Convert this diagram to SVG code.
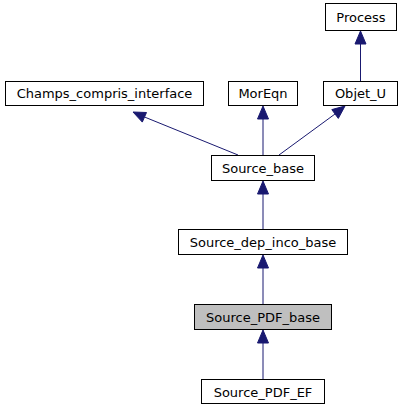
<svg xmlns="http://www.w3.org/2000/svg" width="403" height="411" viewBox="0 0 403 411">
<style>
.n rect{fill:#fff;stroke:#000;stroke-width:1}
.n text{font-family:"DejaVu Sans",sans-serif;font-size:13px;text-anchor:middle;fill:#000}
.e path{fill:none;stroke:#191970;stroke-width:1}
.e polygon{fill:#191970;stroke:#191970;stroke-width:1}
</style>
<rect width="403" height="411" fill="#fff"/>
<g class="e" id="edges">
<path d="M360.5,81V44"/><polygon points="355,44 360.5,31 366,44"/>
<path d="M238,155L144.5,117"/><polygon points="142.3,122.1 133,112 146.5,112.5"/>
<path d="M263,155V119"/><polygon points="257.5,119 263,106 268.5,119"/>
<path d="M279,155L335,114"/><polygon points="331.8,109.6 345,106 338.3,118.4"/>
<path d="M263,229V194"/><polygon points="257.5,194 263,181 268.5,194"/>
<path d="M263,304V268"/><polygon points="257.5,268 263,255 268.5,268"/>
<path d="M263,379V343"/><polygon points="257.5,343 263,330 268.5,343"/>
</g>
<g class="n" id="Process"><rect x="325.5" y="3.5" width="71" height="27"/><text x="361" y="22">Process</text></g>
<g class="n" id="Champs_compris_interface"><rect x="5.5" y="81.5" width="198" height="24"/><text x="104.5" y="98">Champs_compris_interface</text></g>
<g class="n" id="MorEqn"><rect x="228.5" y="81.5" width="69" height="24"/><text x="263" y="98">MorEqn</text></g>
<g class="n" id="Objet_U"><rect x="323.5" y="81.5" width="74" height="24"/><text x="360.5" y="98">Objet_U</text></g>
<g class="n" id="Source_base"><rect x="211.5" y="155.5" width="103" height="25"/><text x="263" y="172.5">Source_base</text></g>
<g class="n" id="Source_dep_inco_base"><rect x="178.5" y="229.5" width="169" height="25"/><text x="263" y="246.5">Source_dep_inco_base</text></g>
<g class="n" id="Source_PDF_base"><rect x="194.5" y="304.5" width="137" height="25" style="fill:#bfbfbf"/><text x="263" y="321.5">Source_PDF_base</text></g>
<g class="n" id="Source_PDF_EF"><rect x="201.5" y="379.5" width="123" height="24"/><text x="263" y="396.5">Source_PDF_EF</text></g>
</svg>
